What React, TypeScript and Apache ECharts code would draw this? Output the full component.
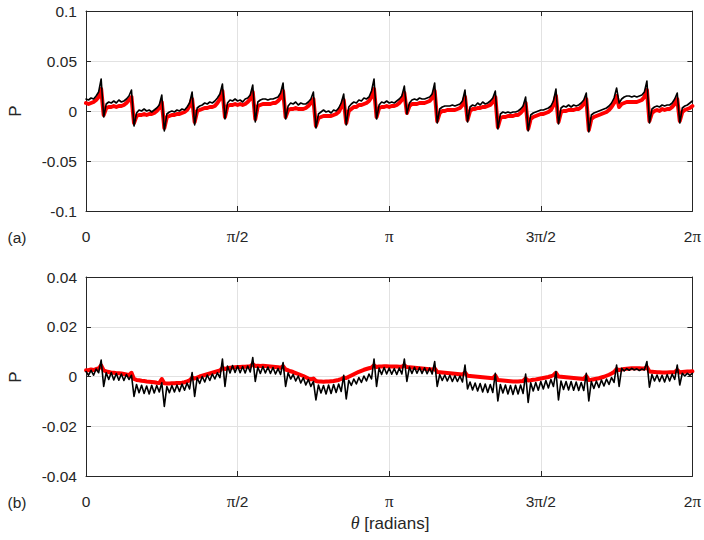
import { useEffect, useRef } from "react";
import * as echarts from "echarts";

// θ is sampled every 1.5° from 0° to 360° (axis shown as 0 … 2π)
const THETA_STEP_DEG = 1.5;

const X_TICK_VALUES = [0, 90, 180, 270, 360];
const X_TICK_LABELS = ["0", "{p|π}/2", "{p|π}", "3{p|π}/2", "2{p|π}"];

const Y_RANGE_A = [-0.1, 0.1];
const Y_STEP_A = 0.05;
const Y_RANGE_B = [-0.04, 0.04];
const Y_STEP_B = 0.02;

// Panel (a): P × 10^3
const P_A_BLACK_E3 = [
  12, 11, 13, 12, 15, 19,
  32, -6, 7, 9, 8, 10, 8, 11, 9, 10, 12, 15,
  21, -15, -2, 1, 0, 2, 0, 1, -1, 1, 3, 6,
  16, -20, -3, -1, 0, -1, 1, 0, 2, 1, 4, 8,
  19, -14, 3, 5, 6, 8, 7, 9, 8, 10, 13, 17,
  27, -8, 8, 11, 10, 12, 10, 11, 9, 12, 13, 16,
  26, -11, 9, 11, 12, 12, 11, 12, 12, 13, 14, 18,
  28, -8, 5, 8, 7, 9, 6, 8, 7, 7, 9, 12,
  19, -17, -3, -1, 1, -1, 0, -2, 1, 0, 3, 8,
  17, -14, 4, 7, 9, 8, 11, 10, 13, 12, 14, 20,
  32, -8, 6, 9, 8, 10, 8, 9, 8, 10, 12, 15,
  25, -3, 8, 11, 12, 11, 13, 12, 12, 13, 14, 17,
  28, -12, 2, 4, 5, 5, 5, 6, 5, 6, 7, 10,
  21, -11, 4, 6, 5, 8, 6, 9, 7, 8, 10, 13,
  20, -18, -3, -1, -2, -1, -2, -1, -1, 0, 2, 5,
  14, -20, -4, -2, -1, 0, 1, 1, 2, 3, 5, 10,
  22, -13, 3, 5, 4, 6, 4, 6, 5, 6, 8, 11,
  18, -21, -4, -2, -1, 0, 1, 2, 3, 5, 8, 13,
  23, 8, 12, 14, 15, 15, 14, 15, 14, 15, 16, 19,
  30, -12, 2, 4, 5, 4, 6, 5, 6, 6, 8, 12,
  18, -12, 3, 5, 6, 8, 10,
];

const P_A_RED_E3 = [
  8, 7, 8, 9, 11, 14,
  22, -4, 3, 4, 4, 5, 4, 5, 5, 6, 8, 11,
  14, -12, -5, -4, -4, -3, -4, -3, -3, -2, 0, 3,
  9, -17, -6, -5, -4, -4, -3, -3, -2, -1, 1, 5,
  12, -11, 0, 1, 2, 3, 3, 4, 4, 5, 8, 12,
  20, -6, 5, 6, 6, 7, 6, 7, 6, 7, 9, 12,
  19, -8, 5, 6, 7, 7, 7, 7, 8, 8, 10, 13,
  20, -6, 1, 2, 2, 3, 2, 2, 2, 3, 5, 8,
  12, -15, -7, -6, -5, -5, -5, -5, -4, -3, -1, 4,
  11, -12, 0, 2, 4, 4, 6, 6, 7, 8, 10, 14,
  22, -6, 3, 4, 4, 5, 4, 5, 5, 6, 8, 11,
  18, -2, 5, 7, 7, 7, 8, 8, 8, 9, 10, 13,
  20, -10, -2, 0, 0, 1, 1, 1, 1, 2, 3, 6,
  14, -9, 0, 2, 2, 3, 3, 4, 4, 5, 6, 9,
  14, -16, -7, -6, -6, -5, -5, -5, -4, -4, -2, 1,
  8, -18, -8, -6, -5, -4, -3, -3, -2, -1, 1, 6,
  15, -11, -1, 0, 0, 1, 1, 1, 2, 2, 4, 7,
  12, -19, -8, -6, -5, -4, -3, -2, -1, 1, 4, 8,
  15, 4, 7, 8, 9, 9, 9, 9, 9, 10, 11, 14,
  21, -10, -2, 0, 1, 0, 2, 1, 2, 2, 4, 7,
  12, -10, -1, 1, 2, 3, 5,
];

// Panel (b): P × 10^3
const P_B_BLACK_E3 = [
  2, 0.5, 2.5, 0.5, 3, 1.5,
  6.6, -4, 1.5, -1.2, 1.6, -1.4, 1.2, -1.5, 1.0, -1.6, 0.8, -1.2,
  0.5, -8, -3.2, -6.5, -3.5, -6.8, -3.8, -7.0, -3.5, -6.6, -3.6, -6.2,
  -2.5, -12, -4.0, -6.5, -3.6, -6.2, -3.4, -6.0, -3.0, -5.5, -2.6, -5.0,
  1.6, -8, -0.5, -2.8, 0, -2.2, 0.6, -1.6, 1.0, -1.0, 1.5, -0.5,
  7, -4, 4.2, 1.4, 4.4, 1.6, 4.2, 1.5, 4.0, 1.4, 4.2, 1.8,
  7.6, -2, 3.8, 1.2, 4.0, 1.4, 3.8, 1.2, 3.6, 1.0, 3.2, 0.8,
  5.6, -4, 1.5, -1.0, 0.8, -1.8, 0.2, -2.6, -0.5, -3.4, -1.2, -4.0,
  -2, -9.4, -3.4, -6.6, -3.6, -7.0, -3.4, -6.8, -3.2, -6.4, -3.0, -6.0,
  0.5, -9, -1.5, -3.6, -1.0, -3.0, -0.4, -2.4, 0.2, -1.8, 1.0, -1.0,
  7, -4, 3.4, 0.8, 3.6, 1.0, 3.4, 0.9, 3.2, 0.8, 3.4, 1.0,
  7, -2, 3.8, 1.2, 3.7, 1.3, 3.6, 1.2, 3.5, 1.1, 3.4, 1.0,
  6, -4, 0.8, -1.6, 0.6, -1.8, 0.5, -2.0, 0.3, -2.0, 0.2, -2.2,
  4.6, -5, -2.2, -5.4, -2.6, -5.8, -2.8, -6.2, -3.0, -6.4, -3.2, -6.4,
  1.3, -9.8, -3.2, -6.6, -3.4, -7.0, -3.6, -7.2, -3.5, -7.0, -3.4, -6.8,
  1, -10.4, -2.5, -5.8, -2.4, -5.5, -2.0, -5.0, -1.6, -4.6, -1.2, -4.0,
  2, -9.4, -1.8, -5.2, -2.0, -5.4, -2.0, -5.5, -2.2, -5.6, -2.4, -5.6,
  1.3, -9.8, -2.0, -4.8, -1.8, -4.4, -1.4, -3.8, -1.0, -3.2, -0.4, -2.4,
  4.6, -4, 3.3, 2.2, 3.2, 2.5, 3.3, 2.6, 3.1, 2.4, 3.0, 2.6,
  6, -4.3, 0.8, -1.8, 0.6, -2.0, 0.5, -2.2, 0.8, -1.8, 1.0, -1.2,
  4.6, -3.4, 1.3, 0.2, 1.3, 0.5, 1.3,
];

const P_B_RED_E3 = [
  2.5, 2.5, 2.8, 2.6, 3, 3.2,
  4.5, 2.5, 2, 1.8, 1.5, 1.5, 1.3, 1.3, 1.2, 1.0, 0.8, 0.5,
  1.5, -1.0, -1.4, -1.5, -1.7, -1.8, -2.0, -2.1, -2.2, -2.3, -2.5, -2.6,
  -1.0, -2.7, -2.8, -2.8, -2.7, -2.7, -2.6, -2.6, -2.5, -2.3, -2.0, -1.6,
  -0.5, -0.8, -0.4, 0, 0.3, 0.6, 0.9, 1.2, 1.5, 1.8, 2.1, 2.4,
  3.5, 3.0, 3.3, 3.5, 3.6, 3.7, 3.8, 3.8, 3.9, 3.9, 4.0, 4.0,
  5.0, 4.2, 4.3, 4.2, 4.3, 4.2, 4.1, 4.0, 3.9, 3.8, 3.7, 3.5,
  4.2, 2.8, 2.5, 2.1, 1.8, 1.4, 1.0, 0.6, 0.2, -0.3, -0.8, -1.2,
  -0.8, -1.8, -2.0, -2.0, -2.1, -2.0, -2.0, -1.9, -1.8, -1.6, -1.4, -1.0,
  -0.5, -0.6, -0.1, 0.4, 0.9, 1.4, 1.9, 2.3, 2.7, 3.0, 3.3, 3.6,
  4.5, 3.8, 4.0, 4.0, 4.1, 4.1, 4.0, 4.0, 4.0, 4.0, 3.9, 3.9,
  4.5, 3.8, 3.7, 3.6, 3.5, 3.4, 3.3, 3.2, 3.1, 3.0, 2.9, 2.8,
  3.2, 1.8, 1.7, 1.6, 1.5, 1.4, 1.3, 1.2, 1.1, 1.0, 0.9, 0.8,
  1.6, 0.3, 0.2, 0.1, 0, -0.1, -0.2, -0.3, -0.4, -0.5, -0.6, -0.7,
  0.4, -1.4, -1.5, -1.6, -1.7, -1.8, -1.9, -2.0, -2.0, -2.0, -1.9, -1.8,
  -0.8, -1.6, -1.5, -1.3, -1.2, -1.0, -0.8, -0.6, -0.4, -0.2, 0.1, 0.5,
  1.5, 0, -0.1, -0.2, -0.3, -0.4, -0.5, -0.6, -0.7, -0.8, -0.9, -1.0,
  0.2, -1.4, -1.3, -1.1, -0.9, -0.7, -0.4, -0.1, 0.3, 0.7, 1.2, 1.8,
  3.0, 2.6, 2.8, 3.0, 3.1, 3.2, 3.3, 3.3, 3.3, 3.3, 3.2, 3.2,
  3.8, 2.0, 1.9, 1.8, 1.7, 1.7, 1.6, 1.6, 1.6, 1.7, 1.7, 1.8,
  2.6, 1.6, 1.8, 1.9, 2.0, 2.0, 2.1,
];

const FONT = "'Liberation Sans', Arial, Helvetica, sans-serif";
const SERIF = "'Liberation Serif', 'DejaVu Serif', serif";
const AXIS_COLOR = "#262626";
const GRID_COLOR = "#e2e2e2";
const TICK_FONT = 15.5;
const LABEL_FONT = 17;

export default function App() {
  const ref = useRef<HTMLDivElement>(null);

  useEffect(() => {
    if (!ref.current) return;
    const chart = echarts.init(ref.current, null, { renderer: "svg" });

    const toPoints = (arr: number[]) =>
      arr.map((v, i) => [i * THETA_STEP_DEG, v / 1000]);

    const xFmt = (v: number) => {
      const idx = X_TICK_VALUES.indexOf(Math.round(v));
      return idx >= 0 ? X_TICK_LABELS[idx] : "";
    };
    const yFmt = (v: number) => {
      const r = Math.round(v * 10000) / 10000;
      return (r === 0 ? 0 : r).toString();
    };

    const xAxisMain = (gridIndex: number) => ({
      gridIndex,
      type: "value",
      position: "bottom",
      min: X_TICK_VALUES[0],
      max: X_TICK_VALUES[X_TICK_VALUES.length - 1],
      interval: 90,
      axisLine: { show: true, onZero: false, lineStyle: { color: AXIS_COLOR, width: 1 } },
      axisTick: { show: true, inside: true, length: 5, lineStyle: { color: AXIS_COLOR } },
      axisLabel: {
        show: true,
        margin: 16,
        color: AXIS_COLOR,
        fontSize: TICK_FONT,
        fontFamily: FONT,
        lineHeight: 18,
        formatter: xFmt,
        rich: {
          p: { fontFamily: SERIF, fontSize: 17, lineHeight: 18, color: AXIS_COLOR },
        },
      },
      splitLine: { show: true, lineStyle: { color: GRID_COLOR, width: 1 } },
    });
    const xAxisTop = (gridIndex: number) => ({
      gridIndex,
      type: "value",
      position: "top",
      min: X_TICK_VALUES[0],
      max: X_TICK_VALUES[X_TICK_VALUES.length - 1],
      interval: 90,
      axisLine: { show: true, onZero: false, lineStyle: { color: AXIS_COLOR, width: 1 } },
      axisTick: { show: true, inside: true, length: 5, lineStyle: { color: AXIS_COLOR } },
      axisLabel: { show: false },
      splitLine: { show: false },
    });
    const yAxisMain = (gridIndex: number, range: number[], step: number) => ({
      gridIndex,
      type: "value",
      position: "left",
      min: range[0],
      max: range[1],
      interval: step,
      axisLine: { show: true, onZero: false, lineStyle: { color: AXIS_COLOR, width: 1 } },
      axisTick: { show: true, inside: true, length: 5, lineStyle: { color: AXIS_COLOR } },
      axisLabel: {
        show: true,
        margin: 9,
        color: AXIS_COLOR,
        fontSize: TICK_FONT,
        fontFamily: FONT,
        formatter: yFmt,
      },
      splitLine: { show: true, lineStyle: { color: GRID_COLOR, width: 1 } },
    });
    const yAxisRight = (gridIndex: number, range: number[], step: number) => ({
      gridIndex,
      type: "value",
      position: "right",
      min: range[0],
      max: range[1],
      interval: step,
      axisLine: { show: true, onZero: false, lineStyle: { color: AXIS_COLOR, width: 1 } },
      axisTick: { show: true, inside: true, length: 5, lineStyle: { color: AXIS_COLOR } },
      axisLabel: { show: false },
      splitLine: { show: false },
    });

    const line = (data: number[][], xi: number, yi: number, color: string, width: number, z: number) => ({
      type: "line",
      xAxisIndex: xi,
      yAxisIndex: yi,
      data,
      showSymbol: false,
      symbol: "none",
      z,
      lineStyle: { color, width, join: "round", cap: "round" },
      emphasis: { disabled: true },
    });

    const text = (x: number, y: number, t: string, size: number, extra: any = {}) => ({
      type: "text",
      x,
      y,
      ...extra,
      style: {
        text: t,
        fill: AXIS_COLOR,
        font: `${size}px ${FONT}`,
        textAlign: "center",
        textVerticalAlign: "middle",
      },
    });

    chart.setOption({
      animation: false,
      grid: [
        { left: 86, top: 11, width: 607, height: 200, show: false },
        { left: 86, top: 277, width: 607, height: 199, show: false },
      ],
      xAxis: [xAxisMain(0), xAxisTop(0), xAxisMain(1), xAxisTop(1)],
      yAxis: [
        yAxisMain(0, Y_RANGE_A, Y_STEP_A),
        yAxisRight(0, Y_RANGE_A, Y_STEP_A),
        yAxisMain(1, Y_RANGE_B, Y_STEP_B),
        yAxisRight(1, Y_RANGE_B, Y_STEP_B),
      ],
      series: [
        line(toPoints(P_A_RED_E3), 0, 0, "#ff0000", 4, 2),
        line(toPoints(P_A_BLACK_E3), 0, 0, "#000000", 1.6, 3),
        line(toPoints(P_B_RED_E3), 2, 2, "#ff0000", 4, 2),
        line(toPoints(P_B_BLACK_E3), 2, 2, "#000000", 1.6, 3),
      ],
      graphic: [
        text(15, 111, "P", LABEL_FONT, { rotation: Math.PI / 2 }),
        text(15, 377, "P", LABEL_FONT, { rotation: Math.PI / 2 }),
        text(17, 237, "(a)", TICK_FONT),
        text(17, 502, "(b)", TICK_FONT),
        {
          type: "text",
          x: 390,
          y: 523,
          style: {
            text: "{t|θ} [radians]",
            fill: AXIS_COLOR,
            font: `${LABEL_FONT}px ${FONT}`,
            textAlign: "center",
            textVerticalAlign: "middle",
            rich: {
              t: { fontFamily: SERIF, fontStyle: "italic", fontSize: 18, fill: AXIS_COLOR },
            },
          },
        },
      ],
    });

    return () => chart.dispose();
  }, []);

  return (
    <div
      ref={ref}
      style={{ position: "fixed", left: 0, top: 0, width: 704, height: 540, background: "#fff" }}
    />
  );
}
